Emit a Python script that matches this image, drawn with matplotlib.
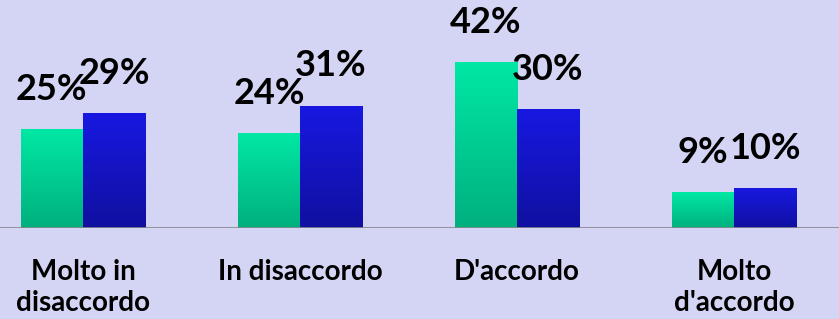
import matplotlib.pyplot as plt
import numpy as np
from matplotlib.colors import LinearSegmentedColormap

# dati
categorie = ["Molto in\ndisaccordo", "In disaccordo", "D'accordo", "Molto\nd'accordo"]
serie_a = [25, 24, 42, 9]
serie_b = [29, 31, 30, 10]

bg = "#d4d4f4"
verde = LinearSegmentedColormap.from_list("verde", ["#00b07e", "#00e8a4"])
blu = LinearSegmentedColormap.from_list("blu", ["#1010a0", "#1818e2"])

fig = plt.figure(figsize=(8.39, 3.19), dpi=100, facecolor=bg)
ax = fig.add_axes([0, 91 / 319, 1, 228 / 319])
ax.set_facecolor(bg)

x = np.arange(len(categorie))
w = 0.286
grad = np.linspace(0, 1, 256).reshape(-1, 1)


def gradient_bars(xs, vals, cmap):
    bars = ax.bar(xs, vals, width=w, color="none", edgecolor="none")
    for b in bars:
        x0, y0 = b.get_x(), b.get_y()
        im = ax.imshow(grad, extent=[x0, x0 + b.get_width(), y0, y0 + b.get_height()],
                       origin="lower", aspect="auto", cmap=cmap, zorder=2)
        im.set_clip_path(b)
    for xi, v in zip(xs, vals):
        ax.annotate(f"{v}%", (xi, v), xytext=(0, 21), textcoords="offset points",
                    ha="center", va="baseline", fontsize=26, fontweight="bold",
                    family="Lato", color="black", zorder=5)


gradient_bars(x - w / 2, serie_a, verde)
gradient_bars(x + w / 2, serie_b, blu)

ax.set_xlim(-0.382, 3.484)
ax.set_ylim(0, 57.7)
ax.axhline(0, color="#888888", lw=1.2, zorder=3)
for s in ax.spines.values():
    s.set_visible(False)
ax.set_yticks([])
ax.set_xticks(x)
ax.set_xticklabels(categorie, fontsize=20, fontweight="bold", family="Lato",
                   linespacing=1.25)
ax.tick_params(axis="x", length=0, pad=22)

fig.savefig("out.png", dpi=100, facecolor=bg)
